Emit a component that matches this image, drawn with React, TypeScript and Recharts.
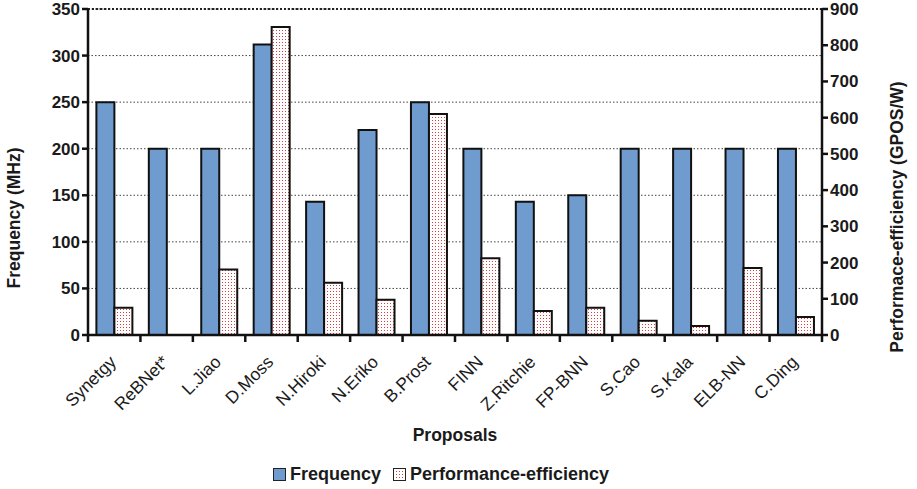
import React from 'react';
import { BarChart, Bar, XAxis, YAxis, CartesianGrid, Legend, ReferenceLine } from 'recharts';

const proposals = ['Synetgy', 'ReBNet*', 'L.Jiao', 'D.Moss', 'N.Hiroki', 'N.Eriko', 'B.Prost', 'FINN', 'Z.Ritchie', 'FP-BNN', 'S.Cao', 'S.Kala', 'ELB-NN', 'C.Ding'];
const frequency = [250, 200, 200, 312, 143, 220, 250, 200, 143, 150, 200, 200, 200, 200];
const perfEfficiency = [75, 0, 181, 850, 144, 97, 610, 212, 66, 75, 39, 25, 185, 50];

const freqTicks = [0, 50, 100, 150, 200, 250, 300, 350];
const effTicks = [0, 100, 200, 300, 400, 500, 600, 700, 800, 900];

const data = proposals.map((name, i) => ({ name, frequency: frequency[i], efficiency: perfEfficiency[i] }));

const FONT = '"Liberation Sans", Arial, sans-serif';
const BLUE = '#6F9BCF';
const INK = '#1a1a1a';

function CategoryTick(props: any) {
  const { x, y, payload, index } = props;
  const bw = 734 / proposals.length;
  const tx = x + 3;
  const ty = y + 20;
  return (
    <g>
      <line x1={x - bw / 2} x2={x - bw / 2} y1={y - 8} y2={y - 1} stroke="#111" strokeWidth={2.5} />
      {index === proposals.length - 1 && (
        <line x1={x + bw / 2} x2={x + bw / 2} y1={y - 8} y2={y - 1} stroke="#111" strokeWidth={2.5} />
      )}
      <text
        x={tx}
        y={ty}
        transform={`rotate(-45, ${tx}, ${ty})`}
        textAnchor="end"
        fontFamily={FONT}
        fontSize={17.5}
        fill={INK}
      >
        {payload.value}
      </text>
    </g>
  );
}

function LegendContent() {
  return (
    <div style={{ display: 'flex', alignItems: 'center', height: 30, paddingLeft: 273, fontFamily: FONT, fontWeight: 700, fontSize: 18, color: INK }}>
      <svg width={13} height={13} style={{ marginRight: 4 }}>
        <rect x={0.5} y={0.5} width={12} height={12} fill={BLUE} stroke="#222" strokeWidth={1} />
      </svg>
      <span style={{ marginRight: 12 }}>Frequency</span>
      <svg width={13} height={13} style={{ marginRight: 4 }}>
        <defs>
          <pattern id="dotsLegend" width={3} height={3} patternUnits="userSpaceOnUse">
            <rect width={3} height={3} fill="#fff" />
            <rect width={1} height={1} fill="#e23a3a" />
          </pattern>
        </defs>
        <rect x={0.5} y={0.5} width={12} height={12} fill="url(#dotsLegend)" stroke="#222" strokeWidth={1} />
      </svg>
      <span>Performance-efficiency</span>
    </div>
  );
}

const axisText = { fontFamily: FONT, fontWeight: 700, fontSize: 17, fill: INK };
const labelText = { textAnchor: 'middle', fontFamily: FONT, fontWeight: 700, fontSize: 17.5, fill: INK } as any;

export default function App() {
  return (
    <div style={{ width: 917, height: 489, background: '#fff' }}>
      <style>{'body{margin:0}'}</style>
      <BarChart
        width={917}
        height={489}
        data={data}
        margin={{ top: 9, right: 35, left: 28, bottom: 0 }}
        barCategoryGap="16%"
        barGap={0}
      >
        <defs>
          <pattern id="dots" width={3} height={3} patternUnits="userSpaceOnUse">
            <rect width={3} height={3} fill="#fff" />
            <rect width={1} height={1} fill="#e23a3a" />
          </pattern>
        </defs>
        <CartesianGrid yAxisId="freq" vertical={false} stroke="#444" strokeDasharray="1.5 2" strokeWidth={1} />
        <ReferenceLine yAxisId="freq" y={350} stroke="#222" strokeDasharray="2 2" strokeWidth={2} />
        <XAxis
          dataKey="name"
          height={124}
          axisLine={{ stroke: '#111', strokeWidth: 2.5 }}
          tickLine={false}
          tick={<CategoryTick />}
          interval={0}
          label={{ value: 'Proposals', position: 'insideBottom', offset: 18, style: labelText }}
        />
        <YAxis
          yAxisId="freq"
          orientation="left"
          width={60}
          domain={[0, 350]}
          ticks={freqTicks}
          interval={0}
          axisLine={{ stroke: '#111', strokeWidth: 2.5 }}
          tickLine={{ stroke: '#111', strokeWidth: 2.5 }}
          tickSize={6}
          tick={axisText}
          label={{ value: 'Frequency (MHz)', angle: -90, position: 'insideLeft', offset: -14, dy: 46, style: labelText }}
        />
        <YAxis
          yAxisId="eff"
          orientation="right"
          width={60}
          domain={[0, 900]}
          ticks={effTicks}
          interval={0}
          axisLine={{ stroke: '#111', strokeWidth: 2.5 }}
          tickLine={{ stroke: '#111', strokeWidth: 2.5 }}
          tickSize={6}
          tick={axisText}
          label={{ value: 'Performace-efficiency (GPOS/W)', angle: -90, position: 'insideRight', offset: -15, dy: 45, style: labelText }}
        />
        <Legend verticalAlign="bottom" height={30} content={<LegendContent />} wrapperStyle={{ left: 0, width: 917 }} />
        <Bar yAxisId="freq" dataKey="frequency" name="Frequency" fill={BLUE} stroke="#111" strokeWidth={2} isAnimationActive={false} />
        <Bar yAxisId="eff" dataKey="efficiency" name="Performance-efficiency" fill="url(#dots)" stroke="#111" strokeWidth={2} isAnimationActive={false} />
      </BarChart>
    </div>
  );
}
